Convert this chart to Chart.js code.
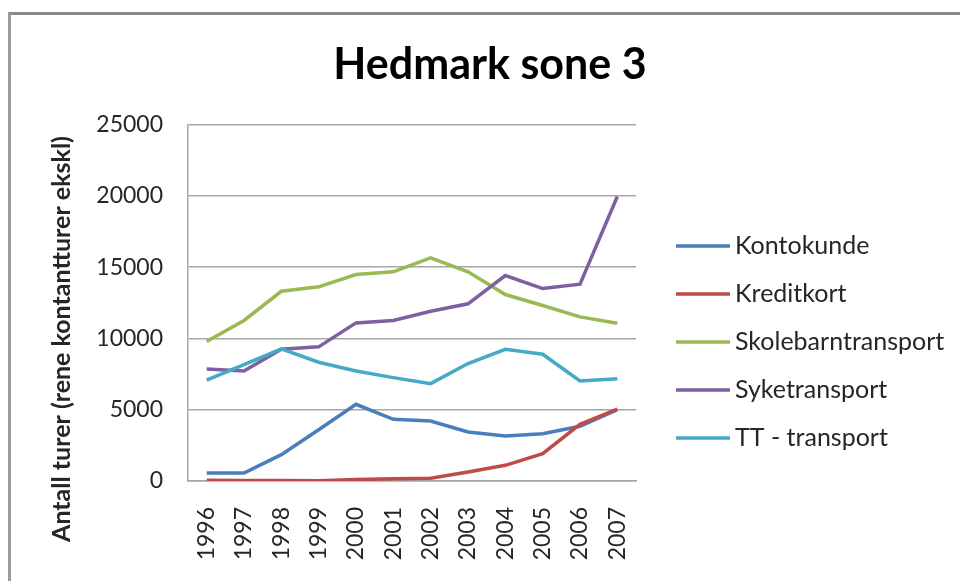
<!DOCTYPE html>
<html>
<head>
<meta charset="utf-8">
<script src="https://cdn.jsdelivr.net/npm/chart.js"></script>
<style>
  html, body { margin: 0; padding: 0; background: #fff; overflow: hidden; }
  #frame { position: absolute; left: 8px; top: 12px; width: 960px; height: 580px;
           border-left: 3px solid #9a9a9a; border-top: 3px solid #8a8a8a; }
  #wrap { position: absolute; left: 0; top: 0; width: 960px; height: 581px; }
</style>
</head>
<body>
<div id="frame"></div>
<div id="wrap"><canvas id="myChart"></canvas></div>
<script>
const ctx = document.getElementById('myChart');

const years = ['1996', '1997', '1998', '1999', '2000', '2001', '2002', '2003', '2004', '2005', '2006', '2007'];
const seriesNames = ['Kontokunde', 'Kreditkort', 'Skolebarntransport', 'Syketransport', 'TT - transport'];
const kontokunde = [560, 560, 1850, 3600, 5380, 4330, 4210, 3440, 3160, 3320, 3840, 5010];
const kreditkort = [50, 40, 30, 20, 100, 150, 200, 630, 1100, 1920, 3980, 5050];
const skolebarn = [9780, 11260, 13310, 13620, 14480, 14670, 15650, 14670, 13080, 12310, 11510, 11070];
const syke = [7860, 7720, 9240, 9410, 11090, 11260, 11910, 12430, 14410, 13500, 13810, 19960];
const tt = [7070, 8170, 9270, 8330, 7720, 7250, 6830, 8240, 9240, 8890, 7020, 7180];
const yTicks = [0, 5000, 10000, 15000, 20000, 25000];

const colors = ['#4a7ebb', '#be4b48', '#98b954', '#7d60a0', '#46aac5'];
const values = [kontokunde, kreditkort, skolebarn, syke, tt];

const titleText = 'Hedmark sone 3';
const yTitle = 'Antall turer (rene kontantturer ekskl)';

// legend + y axis title drawn by hand so they sit where Excel put them
const sideText = {
  id: 'sideText',
  afterDraw(chart) {
    const c = chart.ctx;
    const area = chart.chartArea;
    c.save();
    c.translate(62, 339);
    c.rotate(-Math.PI / 2);
    c.font = 'bold 25px Lato';
    c.fillStyle = '#262626';
    c.textAlign = 'center';
    c.textBaseline = 'middle';
    c.fillText(yTitle, 0, 0);
    c.restore();

    c.save();
    c.font = '25px Lato';
    c.textBaseline = 'middle';
    chart.data.datasets.forEach((ds, i) => {
      const y = 246 + i * 48;
      c.strokeStyle = ds.borderColor;
      c.lineWidth = 3.5;
      c.beginPath();
      c.moveTo(area.right + 40, y);
      c.lineTo(area.right + 94, y);
      c.stroke();
      c.fillStyle = '#262626';
      c.fillText(ds.label, area.right + 99, y);
    });
    c.restore();
  }
};

new Chart(ctx, {
  type: 'line',
  data: {
    labels: years,
    datasets: seriesNames.map((name, i) => ({
      label: name,
      data: values[i],
      borderColor: colors[i],
      backgroundColor: colors[i],
      borderWidth: 3.5,
      pointRadius: 0,
      tension: 0,
      order: 4 - i
    }))
  },
  options: {
    responsive: true,
    maintainAspectRatio: false,
    animation: false,
    layout: { padding: { left: 20, top: 0, right: 0, bottom: 0 } },
    scales: {
      x: {
        offset: true,
        grid: { display: false, drawTicks: false },
        border: { display: true, color: '#a6a6a6', width: 1.5 },
        ticks: {
          autoSkip: false, minRotation: 90, maxRotation: 90, padding: 26,
          color: '#262626', font: { family: 'Lato', size: 23 }
        },
        afterFit: s => { s.height = 100; }
      },
      y: {
        min: 0, max: 25000,
        afterBuildTicks: s => { s.ticks = yTicks.map(v => ({ value: v })); },
        grid: { color: '#a6a6a6', lineWidth: 1.5, drawTicks: false },
        border: { display: true, color: '#a6a6a6', width: 1.5 },
        ticks: {
          padding: 25, color: '#262626', font: { family: 'Lato', size: 23 },
          callback: v => String(v)
        },
        afterFit: s => { s.width = 168; }
      },
      pad: {
        position: 'right',
        grid: { display: false, drawTicks: false },
        border: { display: false },
        ticks: { display: false },
        afterFit: s => { s.width = 324; }
      }
    },
    plugins: {
      legend: { display: false },
      tooltip: { enabled: false },
      title: {
        display: true,
        text: titleText,
        color: '#000',
        font: { family: 'Lato', size: 43, weight: 'bold' },
        padding: { top: 39, bottom: 34 }
      }
    }
  },
  plugins: [sideText]
});
</script>
</body>
</html>
